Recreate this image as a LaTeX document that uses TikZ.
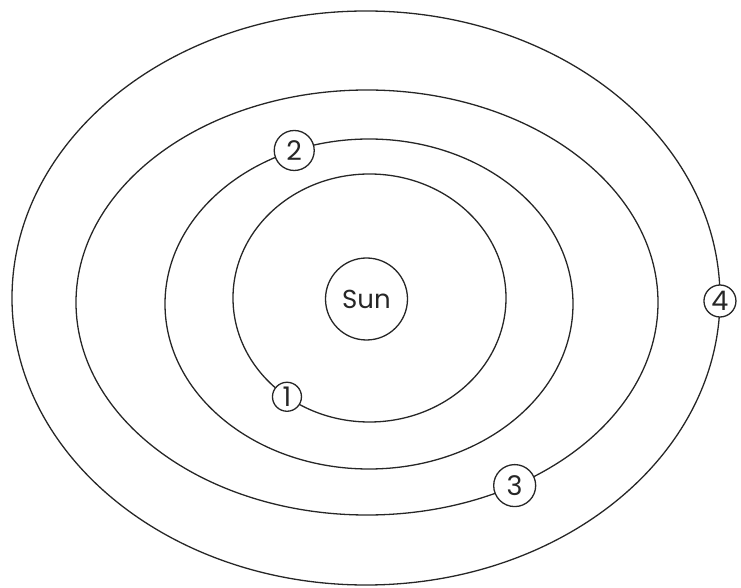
\documentclass[tikz,border=0pt]{standalone}
\usepackage{fontspec}
\setmainfont{Poppins}
\usetikzlibrary{calc}

\begin{document}
\begin{tikzpicture}[x=10pt, y=10pt, line width=1.3pt, black!85,
    planet/.style={circle, draw, fill=white, inner sep=0pt,
      font=\fontsize{27}{27}\selectfont}]
  \useasboundingbox (-36.6, -29.0) rectangle (37.5, 29.8);
  \coordinate (c1) at (0.35, 0);
  \coordinate (c2) at (0.3, -0.6);
  \coordinate (c3) at (0.1, -0.45);
  \coordinate (c4) at (0, 0);
  \draw (c1) ellipse [x radius=13.65, y radius=12.4];
  \draw (c2) ellipse [x radius=20.4, y radius=16.5];
  \draw (c3) ellipse [x radius=29.1, y radius=21.25];
  \draw (c4) ellipse [x radius=35.4, y radius=28.7];
  \node[planet, minimum size=82pt, font=\fontsize{26}{26}\selectfont] (sun) at (0.05, -0.1) {Sun};
  \node[planet, minimum size=29pt] (p1) at ($(c1)+(232.8:13.65 and 12.4)$) {1};
  \node[planet, minimum size=40pt] (p2) at ($(c2)+(111.5:20.4 and 16.5)$) {2};
  \node[planet, minimum size=42pt] (p3) at ($(c3)+(-59.5:29.1 and 21.25)$) {3};
  \node[planet, minimum size=32pt] (p4) at ($(c4)+(-0.6:35.4 and 28.7)$) {4};
\end{tikzpicture}
\end{document}
